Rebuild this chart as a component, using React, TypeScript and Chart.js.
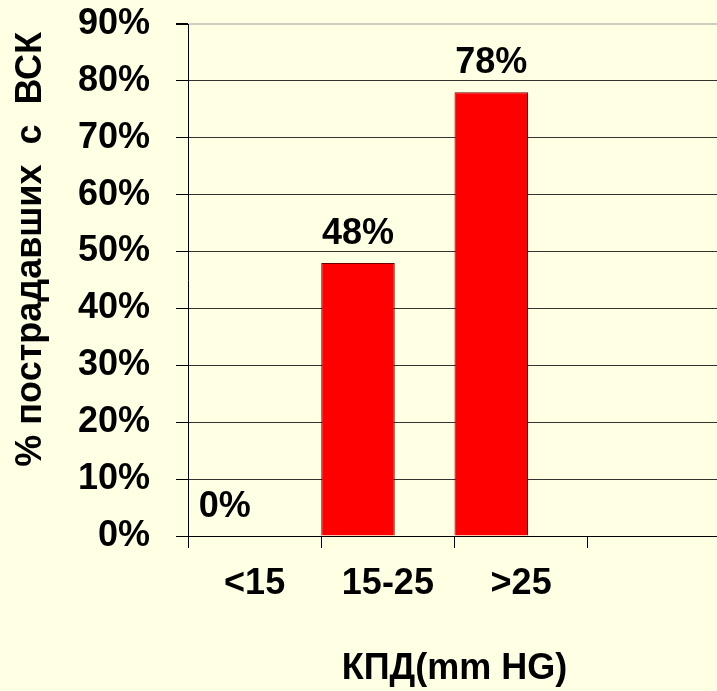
import React, { useEffect, useRef } from "react";
import { Chart, registerables } from "chart.js";

Chart.register(...registerables);

const categories = ["<15", "15-25", ">25", ""];
const values = [0, 48, 78, null];
const yTicksMax = 90;
const yTickStep = 10;
const yTitle = "% пострадавших  с  ВСК";
const xTitle = "КПД(mm HG)";

const FONT = "'Liberation Sans', Arial, sans-serif";
const BG = "#FFFFE4";

const valueLabels = {
  id: "valueLabels",
  afterDatasetsDraw(chart: any) {
    const ctx = chart.ctx;
    const meta = chart.getDatasetMeta(0);
    ctx.save();
    ctx.font = `bold 36px ${FONT}`;
    ctx.fillStyle = "#000";
    ctx.textAlign = "center";
    ctx.textBaseline = "alphabetic";
    meta.data.forEach((el: any, i: number) => {
      const v = values[i];
      if (v === null || v === undefined) return;
      ctx.fillText(`${v}%`, el.x, el.y - 19);
    });
    ctx.restore();
  },
};

const yTitlePlugin = {
  id: "yTitlePlugin",
  afterDraw(chart: any) {
    const ctx = chart.ctx;
    const area = chart.chartArea;
    ctx.save();
    ctx.translate(31, area.top + area.height * 0.44);
    ctx.rotate(-Math.PI / 2);
    ctx.font = `bold 36px ${FONT}`;
    ctx.fillStyle = "#000";
    ctx.textAlign = "center";
    ctx.textBaseline = "middle";
    ctx.fillText(yTitle, 0, 0);
    ctx.restore();
  },
};

export default function App() {
  const ref = useRef<HTMLCanvasElement | null>(null);
  useEffect(() => {
    if (!ref.current) return;
    const chart = new Chart(ref.current, {
      type: "bar",
      data: {
        labels: categories,
        datasets: [
          {
            data: values as any,
            backgroundColor: "#FF0000",
            borderColor: "#6a0000",
            borderWidth: 1,
            categoryPercentage: 0.897,
            barPercentage: 1.2297,
          },
          {
            data: [],
            backgroundColor: "rgba(0,0,0,0)",
          },
        ],
      },
      options: {
        responsive: false,
        animation: false,
        devicePixelRatio: 1,
        layout: { padding: { top: 24, left: 0, right: 0, bottom: 0 } },
        plugins: {
          legend: { display: false },
          tooltip: { enabled: false },
          title: { display: false },
        },
        scales: {
          x: {
            type: "category",
            offset: true,
            afterFit: (s: any) => {
              s.height = 155;
              s.paddingLeft = 0;
              s.paddingRight = 0;
            },
            grid: {
              offset: true,
              drawOnChartArea: false,
              drawTicks: true,
              tickLength: 12,
              tickColor: "#000",
              color: "#000",
            },
            border: { display: true, color: "#000", width: 1 },
            ticks: {
              color: "#000",
              padding: 14,
              font: { family: FONT, size: 36, weight: "bold" },
              maxRotation: 0,
              autoSkip: false,
            },
            title: {
              display: true,
              text: xTitle,
              color: "#000",
              padding: { top: 0, bottom: 0 },
              font: { family: FONT, size: 36, weight: "bold" },
            },
          },
          y: {
            min: 0,
            max: yTicksMax,
            afterFit: (s: any) => {
              s.width = 188;
              s.paddingTop = 0;
              s.paddingBottom = 0;
            },
            grid: {
              drawTicks: true,
              tickLength: 12,
              tickColor: "#000",
              color: (c: any) => (c.tick && c.tick.value === yTicksMax ? "#cdd0be" : "#333333"),
              lineWidth: (c: any) => (c.tick && c.tick.value === yTicksMax ? 2 : 1),
            },
            border: { display: true, color: "#000", width: 1 },
            ticks: {
              stepSize: yTickStep,
              color: "#000",
              padding: 26,
              font: { family: FONT, size: 36, weight: "bold" },
              callback: (v: any) => `${v}%`,
            },
          },
        },
      },
      plugins: [valueLabels, yTitlePlugin],
    });
    return () => chart.destroy();
  }, []);
  return (
    <div
      style={{
        position: "fixed",
        left: 0,
        top: 0,
        width: 717,
        height: 691,
        overflow: "hidden",
        background: BG,
      }}
    >
      <canvas ref={ref} width={721} height={691} style={{ display: "block" }} />
    </div>
  );
}
